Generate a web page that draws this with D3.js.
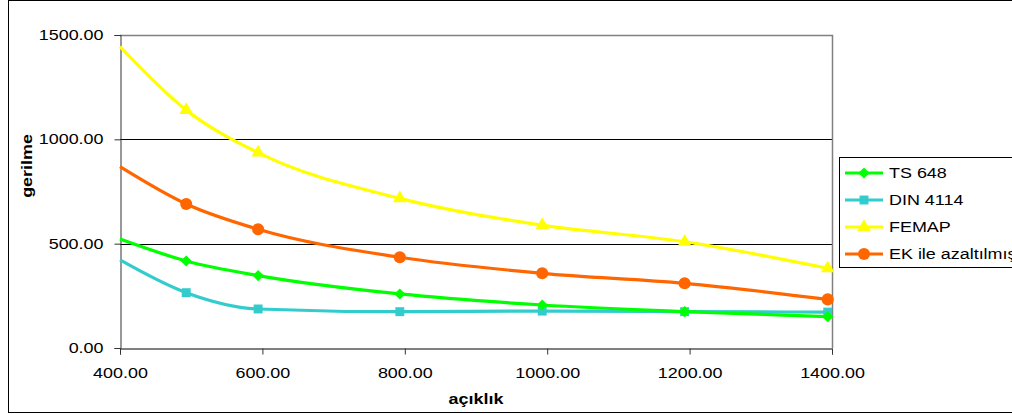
<!DOCTYPE html>
<html>
<head>
<meta charset="utf-8">
<script src="https://cdn.jsdelivr.net/npm/d3@7"></script>
<style>
  html, body { margin: 0; padding: 0; background: #fff; }
  svg { display: block; font-family: "Liberation Sans", Arial, sans-serif; }
</style>
</head>
<body>
<div id="chart"></div>
<script>
// açıklık values (first point has no marker)
const spans = [400, 493, 594, 793, 993, 1193, 1394];
const ts648 = [522, 417, 347, 259, 206, 174, 150];
const din4114 = [422, 265, 187, 174, 177, 174, 172];
const femap = [1444, 1140, 936, 717, 589, 509, 382];
const ekAzaltilmis = [869, 690, 569, 435, 358, 310, 233];

const seriesNames = ["TS 648", "DIN 4114", "FEMAP", "EK ile azaltılmış"];
const seriesColors = ["#00ff00", "#33cccc", "#ffff00", "#ff6600"];
const seriesValues = [ts648, din4114, femap, ekAzaltilmis];

const xTicks = [400, 600, 800, 1000, 1200, 1400];
const yTicks = [0, 500, 1000, 1500];

const W = 1012, H = 414;
const plot = { left: 120, right: 832, top: 35, bottom: 348 };
const stretch = 1.28; // text in the original is drawn wider than normal

const svg = d3.select("#chart").append("svg")
    .attr("width", W)
    .attr("height", H);

function widen(sel) {
    sel.each(function () {
        const w = this.getComputedTextLength();
        d3.select(this)
            .attr("textLength", w * stretch)
            .attr("lengthAdjust", "spacingAndGlyphs");
    });
}

// marker shapes
function markerPath(i) {
    if (i === 0) return d3.symbol().type(d3.symbolSquare).size(62)();
    if (i === 1) return d3.symbol().type(d3.symbolSquare).size(80)();
    if (i === 2) return d3.symbol().type(d3.symbolTriangle).size(80)();
    return d3.symbol().type(d3.symbolCircle).size(115)();
}
const markerRotate = [45, 0, 0, 0];

// outer chart border
svg.append("rect")
    .attr("x", 8.5).attr("y", 0.5)
    .attr("width", 1010).attr("height", 412)
    .attr("fill", "none")
    .attr("stroke", "#000");

const x = d3.scaleLinear().domain([400, 1400]).range([plot.left, plot.right]);
const y = d3.scaleLinear().domain([0, 1500]).range([plot.bottom, plot.top]);

// grid lines
svg.append("g")
    .selectAll("line")
    .data(yTicks.filter(v => v > 0 && v < 1500))
    .join("line")
    .attr("x1", plot.left).attr("x2", plot.right)
    .attr("y1", d => Math.round(y(d)) + 0.5).attr("y2", d => Math.round(y(d)) + 0.5)
    .attr("stroke", "#000");

// plot border top / right
svg.append("path")
    .attr("d", `M${plot.left},${plot.top + 0.5}H${plot.right + 0.5}V${plot.bottom}`)
    .attr("fill", "none")
    .attr("stroke", "#808080")
    .attr("stroke-width", 1.5);

// axes
const xAxis = svg.append("g")
    .attr("transform", `translate(0,${plot.bottom + 0.5})`)
    .call(d3.axisBottom(x).tickValues(xTicks).tickFormat(d3.format(".2f")).tickSize(6).tickPadding(14));
const yAxis = svg.append("g")
    .attr("transform", `translate(${plot.left + 0.5},0)`)
    .call(d3.axisLeft(y).tickValues(yTicks).tickFormat(d3.format(".2f")).tickSize(6).tickPadding(11));

[xAxis, yAxis].forEach(a => {
    a.select(".domain").attr("stroke", "#333");
    a.selectAll(".tick line").attr("stroke", "#333");
    a.selectAll("text")
        .attr("fill", "#000")
        .style("font-size", "14px")
        .style("font-family", "\"Liberation Sans\", Arial, sans-serif")
        .call(widen);
});
xAxis.select(".domain").attr("stroke", "#000");

// axis titles
svg.append("text")
    .attr("x", 476).attr("y", 404)
    .attr("text-anchor", "middle")
    .style("font-size", "14px")
    .style("font-weight", "bold")
    .text("açıklık")
    .call(widen);

svg.append("text")
    .attr("transform", "translate(32,166) rotate(-90)")
    .attr("text-anchor", "middle")
    .style("font-size", "14px")
    .style("font-weight", "bold")
    .text("gerilme")
    .call(widen);

// series
const line = d3.line()
    .x(d => x(d.x))
    .y(d => y(d.y))
    .curve(d3.curveMonotoneX);

const order = [1, 0, 3, 2];
order.forEach(i => {
    const pts = spans.map((s, j) => ({ x: s, y: seriesValues[i][j], j }));
    const g = svg.append("g");
    g.append("path")
        .datum(pts)
        .attr("d", line)
        .attr("fill", "none")
        .attr("stroke", seriesColors[i])
        .attr("stroke-width", 3.2)
        .attr("stroke-linejoin", "round");
    g.selectAll("path.marker")
        .data(pts.filter(p => p.j > 0))
        .join("path")
        .attr("class", "marker")
        .attr("transform", d => `translate(${x(d.x)},${y(d.y)}) rotate(${markerRotate[i]})`)
        .attr("d", markerPath(i))
        .attr("fill", seriesColors[i]);
});

// legend
const legend = svg.append("g").attr("transform", "translate(839,157)");
legend.append("rect")
    .attr("x", 0.5).attr("y", 0.5)
    .attr("width", 200).attr("height", 110)
    .attr("fill", "#fff")
    .attr("stroke", "#000");

seriesNames.forEach((name, i) => {
    const ly = 16 + i * 27;
    const row = legend.append("g").attr("transform", `translate(0,${ly})`);
    row.append("line")
        .attr("x1", 6).attr("x2", 44)
        .attr("stroke", seriesColors[i])
        .attr("stroke-width", 3.2);
    row.append("path")
        .attr("transform", `translate(25,0) rotate(${markerRotate[i]})`)
        .attr("d", markerPath(i))
        .attr("fill", seriesColors[i]);
    row.append("text")
        .attr("x", 50).attr("y", 0)
        .attr("dy", "0.35em")
        .style("font-size", "14px")
        .text(name)
        .call(widen);
});
</script>
</body>
</html>
